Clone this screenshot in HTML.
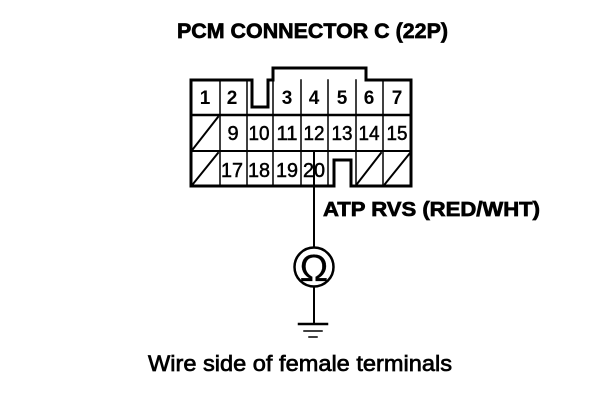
<!DOCTYPE html>
<html>
<head>
<meta charset="utf-8">
<style>
html,body{margin:0;padding:0;background:#fff;width:608px;height:404px;overflow:hidden}
svg{display:block}
text{font-family:"Liberation Sans",sans-serif;fill:#000}
</style>
</head>
<body>
<svg width="608" height="404" viewBox="0 0 608 404" xmlns="http://www.w3.org/2000/svg">
<rect width="608" height="404" fill="#fff"/>
<text x="177" y="38" font-size="21.5" font-weight="bold" stroke="#000" stroke-width="0.7" textLength="271" lengthAdjust="spacingAndGlyphs">PCM CONNECTOR C (22P)</text>

<g fill="none" stroke="#000" stroke-linecap="square">
<!-- outer -->
<path d="M191 80H252M268 80H273V68H366V80H411V186H351V160H334V186H191V80" stroke-width="3"/>
<!-- notch -->
<path d="M252 80V107H268V80" stroke-width="3"/>
<!-- rows -->
<path d="M191 115H411" stroke-width="2.5"/>
<path d="M191 151H411" stroke-width="2"/>
<!-- verticals -->
<path d="M220 80V186M247 80V186M273 80V186M301 80V186M328 80V186M356 80V186M383 80V186" stroke-width="1.5"/>
<!-- diagonals -->
<path d="M193 149L218 117M193 184L218 153M357 184L381 153M385 184L410 153" stroke-width="2"/>
<!-- wire -->
<path d="M314 151V247M314 287V324" stroke-width="2"/>
<circle cx="314" cy="267" r="19.5" stroke-width="2.5"/>
<!-- ground -->
<path d="M299 324H327" stroke-width="2.5"/>
<path d="M304 331H322" stroke-width="1.5"/>
<path d="M309 337H317" stroke-width="1.5"/>
</g>

<g font-size="19" text-anchor="middle" font-weight="bold">
<text x="205" y="104">1</text>
<text x="232" y="104">2</text>
<text x="287" y="104">3</text>
<text x="314" y="104">4</text>
<text x="342" y="104">5</text>
<text x="369" y="104">6</text>
<text x="397" y="104">7</text>
</g>
<g font-size="20" text-anchor="middle" stroke="#000" stroke-width="0.5">
<text x="233" y="140">9</text>
<text x="259" y="140" textLength="21" lengthAdjust="spacingAndGlyphs">10</text>
<text x="287" y="140" textLength="21" lengthAdjust="spacingAndGlyphs">11</text>
<text x="314" y="140" textLength="21" lengthAdjust="spacingAndGlyphs">12</text>
<text x="342" y="140" textLength="21" lengthAdjust="spacingAndGlyphs">13</text>
<text x="369" y="140" textLength="21" lengthAdjust="spacingAndGlyphs">14</text>
<text x="397" y="140" textLength="21" lengthAdjust="spacingAndGlyphs">15</text>
<text x="232" y="177" textLength="22" lengthAdjust="spacingAndGlyphs">17</text>
<text x="259" y="177" textLength="22" lengthAdjust="spacingAndGlyphs">18</text>
<text x="287" y="177" textLength="22" lengthAdjust="spacingAndGlyphs">19</text>
<text x="314" y="177" textLength="22" lengthAdjust="spacingAndGlyphs">20</text>
</g>

<text x="323" y="216" font-size="20" font-weight="bold" stroke="#000" stroke-width="0.7" textLength="217" lengthAdjust="spacingAndGlyphs">ATP RVS (RED/WHT)</text>
<text x="314" y="281" font-size="38" text-anchor="middle" stroke="#000" stroke-width="0.3">Ω</text>
<text x="148" y="371" font-size="22" stroke="#000" stroke-width="0.7" textLength="304" lengthAdjust="spacingAndGlyphs">Wire side of female terminals</text>
</svg>
</body>
</html>
